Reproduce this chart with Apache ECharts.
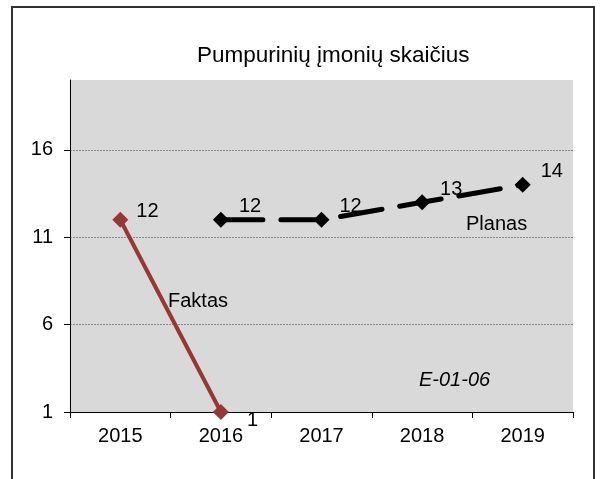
<!DOCTYPE html>
<html>
<head>
<meta charset="utf-8">
<script src="https://cdn.jsdelivr.net/npm/echarts@6/dist/echarts.min.js"></script>
<style>
  html, body { margin: 0; padding: 0; background: #fff; }
  #main { width: 604px; height: 479px; }
</style>
</head>
<body>
<div id="main"></div>
<script>
// duomenys
const years = ["2015", "2016", "2017", "2018", "2019"];
const faktas = [12, 1, "-", "-", "-"];
const planas = ["-", 12, 12, 13, 14];
const yMin = 1;
const yMax = 20;
const yStep = 5;

const font = "Liberation Sans, Arial, sans-serif";

let myChart = echarts.init(document.getElementById("main"));

const option = {
  backgroundColor: "#fff",
  animation: false,
  title: {
    text: "Pumpurinių įmonių skaičius",
    left: 192,
    top: 39,
    textStyle: { fontFamily: font, fontSize: 22.5, fontWeight: "normal", color: "#000" }
  },
  grid: {
    left: 70,
    right: 31,
    top: 80,
    bottom: 67,
    show: true,
    backgroundColor: "#d9d9d9",
    borderWidth: 0
  },
  xAxis: {
    type: "category",
    data: years,
    boundaryGap: true,
    axisLine: { lineStyle: { color: "#000", width: 1 } },
    axisTick: { show: true, length: 6, alignWithLabel: false, lineStyle: { color: "#000" } },
    axisLabel: { fontFamily: font, fontSize: 20, color: "#000", margin: 14 }
  },
  yAxis: {
    type: "value",
    min: yMin,
    max: yMax,
    interval: yStep,
    axisLine: { show: true, lineStyle: { color: "#000", width: 1 } },
    axisTick: { show: true, length: 6, lineStyle: { color: "#000" } },
    axisLabel: { fontFamily: font, fontSize: 20, color: "#000", margin: 17, showMaxLabel: false },
    splitLine: {
      show: true,
      lineStyle: {
        color: ["#888", "#888", "#888", "#888", "rgba(0,0,0,0)"],
        type: [2, 1],
        width: 1
      }
    }
  },
  series: [
    {
      name: "Faktas",
      type: "line",
      data: [
        { value: faktas[0], label: { distance: 8, offset: [0, -8] } },
        { value: faktas[1], label: { distance: 18, offset: [0, 8] } },
        faktas[2], faktas[3], faktas[4]
      ],
      symbol: "diamond",
      symbolSize: 16,
      itemStyle: { color: "#953735" },
      lineStyle: { color: "#953735", width: 4 },
      label: { show: true, position: "right", fontFamily: font, fontSize: 20, color: "#000" },
      z: 3
    },
    {
      name: "Planas",
      type: "line",
      data: planas,
      symbol: "diamond",
      symbolSize: 16,
      itemStyle: { color: "#000" },
      lineStyle: { color: "#000", width: 5, type: [42, 18], cap: "round" },
      label: {
        show: true,
        position: "right",
        distance: 10,
        offset: [0, -13],
        fontFamily: font,
        fontSize: 20,
        color: "#000"
      },
      z: 2
    }
  ],
  graphic: [
    {
      type: "rect",
      shape: { x: 12, y: 7, width: 582, height: 490 },
      style: { fill: null, stroke: "#333", lineWidth: 2 },
      silent: true,
      z: 100
    },
    {
      type: "text",
      left: 168,
      top: 291,
      style: { text: "Faktas", font: "20px " + font, fill: "#000" }
    },
    {
      type: "text",
      left: 466,
      top: 214,
      style: { text: "Planas", font: "20px " + font, fill: "#000" }
    },
    {
      type: "text",
      left: 419,
      top: 370,
      style: { text: "E-01-06", font: "italic 20px " + font, fill: "#000" }
    }
  ]
};

myChart.setOption(option);
</script>
</body>
</html>
